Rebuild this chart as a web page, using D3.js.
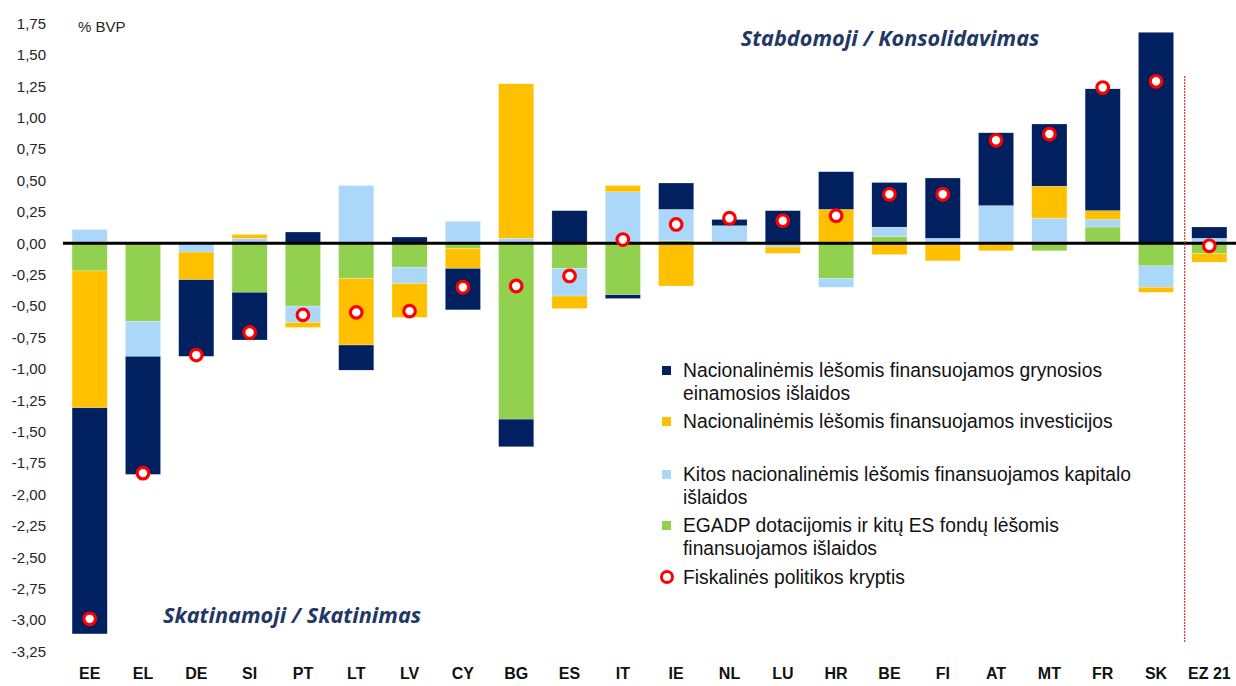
<!DOCTYPE html>
<html><head><meta charset="utf-8">
<script src="https://cdn.jsdelivr.net/npm/d3@7"></script>
<style>body{margin:0;background:#fff}svg{display:block}</style>
</head><body>
<svg id="c" width="1236" height="686"></svg>
<script>
const categories = ["EE","EL","DE","SI","PT","LT","LV","CY","BG","ES","IT","IE","NL","LU","HR","BE","FI","AT","MT","FR","SK","EZ 21"];
// Nacionalinėmis lėšomis finansuojamos grynosios einamosios išlaidos
const navy   = [-1.80,-0.94,-0.61,-0.38, 0.09,-0.20, 0.05,-0.33,-0.22, 0.26,-0.03, 0.21, 0.05, 0.26, 0.30, 0.355, 0.48, 0.58, 0.495, 0.97, 1.68, 0.09];
// Nacionalinėmis lėšomis finansuojamos investicijos
const yellow = [-1.09, 0.00,-0.22, 0.03,-0.04,-0.53,-0.27,-0.16, 1.23,-0.10, 0.05,-0.34, 0.00,-0.05, 0.27,-0.09,-0.14,-0.06, 0.255, 0.07,-0.04,-0.07];
// Kitos nacionalinėmis lėšomis finansuojamos kapitalo išlaidos
const lightBlue = [0.11,-0.28,-0.07, 0.04,-0.13, 0.46,-0.13, 0.175, 0.04,-0.22, 0.41, 0.25, 0.14,-0.03,-0.07, 0.075, 0.04, 0.30, 0.20, 0.06,-0.17, 0.04];
// EGADP dotacijomis ir kitų ES fondų lėšomis finansuojamos išlaidos
const green  = [-0.22,-0.62, 0.00,-0.39,-0.50,-0.28,-0.19,-0.04,-1.40,-0.20,-0.41, 0.02, 0.00, 0.00,-0.28, 0.054, 0.00, 0.00,-0.06, 0.13,-0.18,-0.08];
// Fiskalinės politikos kryptis
const fiscal = [-2.99,-1.83,-0.89,-0.71,-0.57,-0.55,-0.54,-0.35,-0.34,-0.26, 0.03, 0.15, 0.20, 0.18, 0.22, 0.39, 0.39, 0.82, 0.87, 1.24, 1.29,-0.02];
const yTicks = [1.75,1.5,1.25,1,0.75,0.5,0.25,0,-0.25,-0.5,-0.75,-1,-1.25,-1.5,-1.75,-2,-2.25,-2.5,-2.75,-3,-3.25];

const seriesKeys = ["green","lightBlue","yellow","navy"]; // stacking order from zero
const colors = {navy:"#002060", yellow:"#FFC000", lightBlue:"#ABD7F8", green:"#92D050"};
const rows = categories.map((c,i)=>({cat:c, navy:navy[i], yellow:yellow[i], lightBlue:lightBlue[i], green:green[i], fiscal:fiscal[i]}));

const svg = d3.select("#c");
const x = d3.scaleBand().domain(categories).range([63,1236]).paddingInner(0.34).paddingOuter(0.17);
const y = d3.scaleLinear().domain([-3.25,1.75]).range([651.5,23.5]);

const stack = d3.stack().keys(seriesKeys).offset(d3.stackOffsetDiverging);
const stacked = stack(rows);

svg.append("g").selectAll("g").data(stacked).join("g")
  .attr("fill", d=>colors[d.key])
  .selectAll("rect").data(d=>d).join("rect")
  .attr("x", d=>x(d.data.cat))
  .attr("width", x.bandwidth())
  .attr("y", d=>y(Math.max(d[0],d[1])))
  .attr("height", d=>Math.abs(y(d[0])-y(d[1])))
  .attr("stroke","#fff").attr("stroke-width",0.4).attr("stroke-opacity",0.6);

const FONT = "Liberation Sans, Arial, sans-serif";
// y axis
const yAxis = d3.axisLeft(y).tickValues(yTicks).tickSize(0).tickPadding(0)
  .tickFormat(d=>d3.format(".2f")(d).replace(".",",").replace("−","-"));
const gy = svg.append("g").attr("transform","translate(46,0)").call(yAxis);
gy.select(".domain").remove();
gy.selectAll("text").attr("font-family",FONT).attr("font-size",15).attr("fill","#262626");

// x axis labels
const xAxis = d3.axisBottom(x).tickSize(0).tickPadding(0);
const gx = svg.append("g").attr("transform","translate(0,668)").call(xAxis);
gx.select(".domain").remove();
gx.selectAll("text").attr("font-family",FONT).attr("font-size",16).attr("font-weight","bold").attr("fill","#111");

// zero line
svg.append("line").attr("x1",63).attr("x2",1236).attr("y1",y(0)).attr("y2",y(0)).attr("stroke","#000").attr("stroke-width",3);

// red dashed separator
const sepX = (x("SK")+x.bandwidth()+x("EZ 21"))/2 + 2;
svg.append("line").attr("x1",sepX).attr("x2",sepX).attr("y1",76).attr("y2",643)
  .attr("stroke","#E0303A").attr("stroke-width",1.2).attr("stroke-dasharray","2,1");

// fiscal stance markers
svg.append("g").selectAll("circle").data(rows).join("circle")
  .attr("cx", d=>x(d.cat)+x.bandwidth()/2)
  .attr("cy", d=>y(d.fiscal))
  .attr("r",5.8).attr("fill","#fff").attr("stroke","#FF0000").attr("stroke-width",3.2);

// annotations
svg.append("text").attr("x",78).attr("y",32).text("% BVP")
  .attr("font-family",FONT).attr("font-size",15).attr("fill","#262626");
svg.append("text").attr("x",890).attr("y",46).attr("text-anchor","middle").text("Stabdomoji / Konsolidavimas")
  .attr("font-family","Noto Sans, sans-serif").attr("font-size",21.7).attr("font-style","italic").attr("font-weight","bold").attr("fill","#1F3864");
svg.append("text").attr("x",292).attr("y",623).attr("text-anchor","middle").text("Skatinamoji / Skatinimas")
  .attr("font-family","Noto Sans, sans-serif").attr("font-size",21.7).attr("font-style","italic").attr("font-weight","bold").attr("fill","#1F3864");

// legend
const legend = [
  {key:"navy", lines:["Nacionalinėmis lėšomis finansuojamos grynosios","einamosios išlaidos"], y:370},
  {key:"yellow", lines:["Nacionalinėmis lėšomis finansuojamos investicijos"], y:421},
  {key:"lightBlue", lines:["Kitos nacionalinėmis lėšomis finansuojamos kapitalo","išlaidos"], y:474},
  {key:"green", lines:["EGADP dotacijomis ir kitų ES fondų lėšomis","finansuojamos išlaidos"], y:525},
  {key:"fiscal", lines:["Fiskalinės politikos kryptis"], y:577}
];
const lg = svg.append("g");
legend.forEach(l=>{
  if(l.key==="fiscal"){
    lg.append("circle").attr("cx",667).attr("cy",l.y).attr("r",5.5).attr("fill","#fff").attr("stroke","#FF0000").attr("stroke-width",3);
  } else {
    lg.append("rect").attr("x",662).attr("y",l.y-4).attr("width",9).attr("height",9).attr("fill",colors[l.key]);
  }
  l.lines.forEach((t,i)=>{
    lg.append("text").attr("x",683).attr("y",l.y+6.5+i*23.5).text(t)
      .attr("font-family",FONT).attr("font-size",19.3).attr("fill","#111");
  });
});
</script>
</body></html>
